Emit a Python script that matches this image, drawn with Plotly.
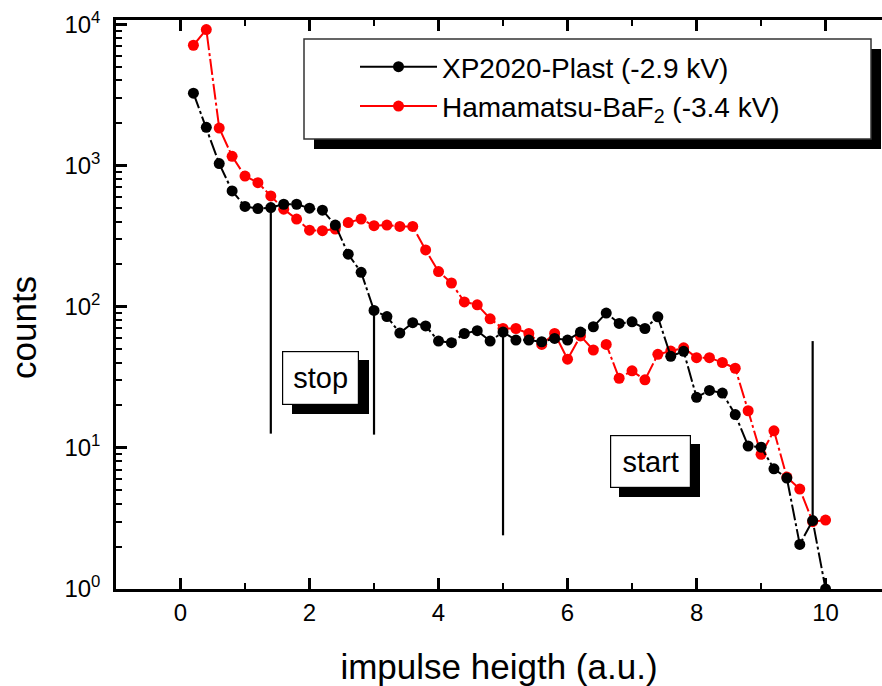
import plotly.graph_objects as go

# Pulse-height spectra, bin centres (a.u.)
impulse = [0.2, 0.4, 0.6, 0.8, 1.0, 1.2, 1.4, 1.6, 1.8, 2.0,
           2.2, 2.4, 2.6, 2.8, 3.0, 3.2, 3.4, 3.6, 3.8, 4.0,
           4.2, 4.4, 4.6, 4.8, 5.0, 5.2, 5.4, 5.6, 5.8, 6.0,
           6.2, 6.4, 6.6, 6.8, 7.0, 7.2, 7.4, 7.6, 7.8, 8.0,
           8.2, 8.4, 8.6, 8.8, 9.0, 9.2, 9.4, 9.6, 9.8, 10.0]

xp2020_plast = [3250, 1860, 1030, 660, 512, 495, 503, 531, 531, 498,
                482, 378, 235, 175, 94, 85, 65, 77, 73, 57,
                55.5, 64.5, 67.5, 57, 66, 58, 58, 56.4, 59.5, 58,
                66, 72, 90, 76, 78, 70, 84.6, 44.5, 48.2, 22.8,
                25.5, 24.4, 17.2, 10.3, 10.1, 7.1, 6.1, 2.07, 3.05, 1.0]

hamamatsu_baf2 = [7100, 9170, 1840, 1160, 840, 755, 608, 490, 417, 348,
                  345, 354, 394, 417, 374, 378, 370, 370, 252, 177,
                  147, 108, 103, 82, 70, 70, 64.5, 54, 64.5, 42.4,
                  62, 49.3, 54, 31.1, 35.1, 30.3, 45.9, 48.4, 51.1, 43.5,
                  43.5, 40.2, 36.6, 18.3, 9.0, 13.2, 6.2, 5.1, 3.0, 3.08]

# Discriminator windows (vertical markers)
gate_x = [1.4, 3.0, 5.0, 9.8]
gate_top = [503, 94, 66, 57]
gate_bottom = [12.6, 12.4, 2.4, 3.05]

x_ticks = [0, 2, 4, 6, 8, 10]
x_minor = [-1, 1, 3, 5, 7, 9]
y_ticks = [1, 10, 100, 1000, 10000]
y_ticktext = ["10<sup>0</sup>", "10<sup>1</sup>", "10<sup>2</sup>",
              "10<sup>3</sup>", "10<sup>4</sup>"]
y_minor = [m * 10 ** k for k in range(4) for m in range(2, 10)]

FONT = "Liberation Sans, Arial, sans-serif"
W, H = 882, 686
ML, MR, MT, MB = 116, 0, 20, 97
PW, PH = W - ML - MR, H - MT - MB


def px(x):
    return (x - ML) / PW


def py(y):
    return (H - MB - y) / PH


fig = go.Figure()

gx, gy = [], []
for x, t, b in zip(gate_x, gate_top, gate_bottom):
    gx += [x, x, None]
    gy += [t, b, None]
fig.add_trace(go.Scatter(x=gx, y=gy, mode="lines", showlegend=False,
                         line=dict(color="black", width=2.2),
                         hoverinfo="skip"))

dash = "16px,3px,3px,3px"
fig.add_trace(go.Scatter(x=impulse, y=hamamatsu_baf2, mode="lines+markers",
                         showlegend=False,
                         line=dict(color="#ff0000", width=2, dash=dash),
                         marker=dict(color="#ff0000", size=11, symbol="circle")))
fig.add_trace(go.Scatter(x=impulse, y=xp2020_plast, mode="lines+markers",
                         showlegend=False,
                         line=dict(color="black", width=2, dash=dash),
                         marker=dict(color="black", size=11, symbol="circle")))

# legend entries (solid sample lines)
fig.add_trace(go.Scatter(x=[None], y=[None], mode="lines+markers",
                         name="XP2020-Plast (-2.9 kV)",
                         line=dict(color="black", width=2),
                         marker=dict(color="black", size=11)))
fig.add_trace(go.Scatter(x=[None], y=[None], mode="lines+markers",
                         name="Hamamatsu-BaF<sub>2</sub> (-3.4 kV)",
                         line=dict(color="#ff0000", width=2),
                         marker=dict(color="#ff0000", size=11)))

shapes = []


def shadow(x0, y0, x1, y1, off_x, off_y):
    shapes.append(dict(type="rect", xref="paper", yref="paper",
                       x0=px(x0 + off_x), x1=px(x1 + off_x),
                       y0=py(y1 + off_y), y1=py(y0 + off_y),
                       fillcolor="black", line=dict(width=0), layer="above"))


# legend frame with drop shadow
shadow(304, 39, 871, 139, 10, 10)
shapes.append(dict(type="rect", xref="paper", yref="paper",
                   x0=px(304), x1=px(871), y0=py(139), y1=py(39),
                   fillcolor="white", line=dict(color="#333333", width=1.5),
                   layer="above"))
# label shadows
shadow(282, 351, 359, 405, 10, 9)
shadow(610, 435, 691, 488, 9, 9)

annotations = [
    dict(text="stop", xref="paper", yref="paper", x=px(320.5), y=py(378),
         xanchor="center", yanchor="middle", showarrow=False,
         width=75, height=52, bgcolor="white", bordercolor="black",
         borderwidth=1.2, borderpad=0, font=dict(family=FONT, size=29, color="black")),
    dict(text="start", xref="paper", yref="paper", x=px(650.5), y=py(461.5),
         xanchor="center", yanchor="middle", showarrow=False,
         width=79, height=51, bgcolor="white", bordercolor="black",
         borderwidth=1.2, borderpad=0, font=dict(family=FONT, size=29, color="black")),
    dict(text="counts", xref="paper", yref="paper", x=px(23), y=py(328),
         xanchor="center", yanchor="middle", showarrow=False, textangle=-90,
         font=dict(family=FONT, size=35, color="black")),
]

fig.update_layout(
    width=W, height=H,
    margin=dict(l=ML, r=MR, t=MT, b=MB, pad=0),
    paper_bgcolor="white", plot_bgcolor="white",
    font=dict(family=FONT, color="black"),
    shapes=shapes, annotations=annotations,
    legend=dict(x=px(355), y=py(42), xanchor="left", yanchor="top",
                bgcolor="rgba(0,0,0,0)", borderwidth=0,
                font=dict(family=FONT, size=28, color="black"),
                itemwidth=77, tracegroupgap=0),
    xaxis=dict(range=[-1, 10.875], showline=True, linecolor="black", linewidth=2.5,
               mirror="ticks", ticks="inside", ticklen=11, tickwidth=2.5,
               tickcolor="black", tickvals=x_ticks, showgrid=False, zeroline=False,
               tickfont=dict(family=FONT, size=24), ticklabelstandoff=0,
               minor=dict(tickvals=x_minor, ticks="inside", ticklen=6, tickwidth=2,
                          tickcolor="black", showgrid=False),
               title=dict(text="impulse heigth (a.u.)", standoff=30,
                          font=dict(family=FONT, size=35))),
    yaxis=dict(type="log", range=[0, 4.03], showline=True, linecolor="black",
               linewidth=2.5, mirror=False, ticks="inside", ticklen=11, tickwidth=2.5,
               tickcolor="black", tickvals=y_ticks, ticktext=y_ticktext,
               showgrid=False, zeroline=False,
               tickfont=dict(family=FONT, size=24), ticklabelstandoff=8,
               minor=dict(tickvals=y_minor, ticks="inside", ticklen=6, tickwidth=2,
                          tickcolor="black", showgrid=False)),
)

fig.write_html("out.html")
